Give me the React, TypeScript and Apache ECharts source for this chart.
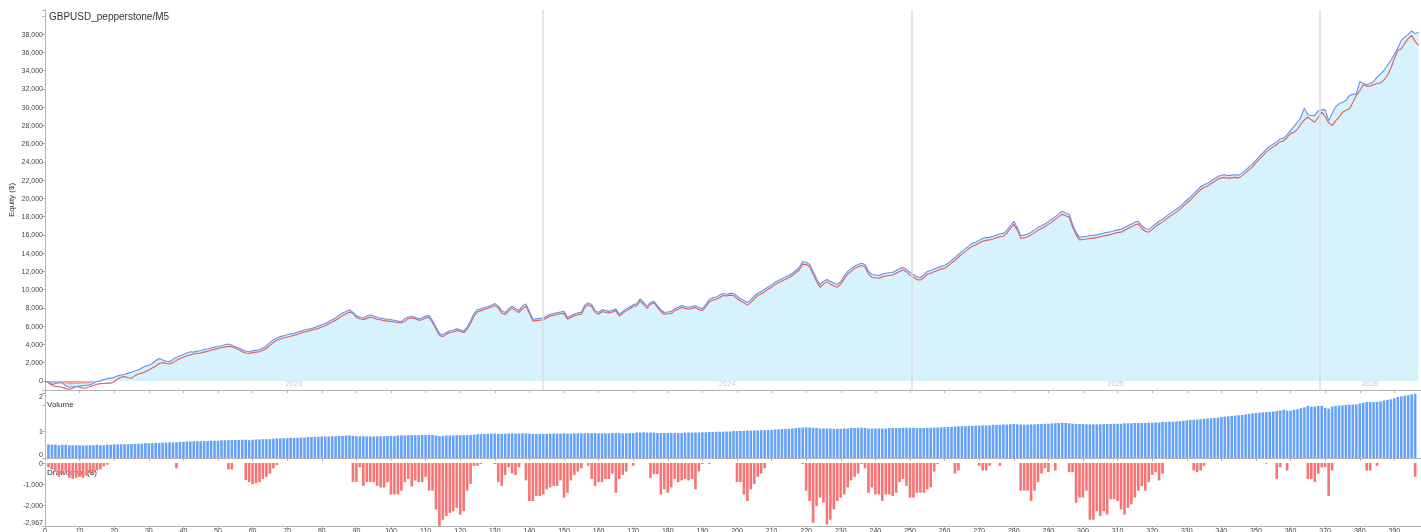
import React, { useEffect, useRef } from "react";
import * as echarts from "echarts";

const TITLE = "GBPUSD_pepperstone/M5";

// Equity (blue, upper line) per trade index 0..397
const equityHigh = [
  0,-150,-400,-300,-200,-250,-500,-700,-650,-620,
  -580,-520,-480,-440,-250,-70,0,150,250,300,
  400,550,650,700,850,950,1100,1200,1400,1600,
  1700,1900,2200,2450,2300,2150,2100,2350,2600,2750,
  2900,3050,3200,3150,3250,3300,3450,3500,3600,3700,
  3800,3850,3950,4050,3900,3750,3600,3400,3250,3200,
  3300,3350,3400,3600,3850,4200,4500,4700,4850,4950,
  5050,5150,5200,5350,5450,5600,5650,5750,5850,6000,
  6150,6300,6500,6700,6900,7200,7450,7600,7800,7500,
  7150,7000,6900,7100,7250,7100,6950,6900,6800,6750,
  6700,6650,6550,6500,6800,7000,7070,6950,6800,6900,
  7100,7150,6600,5900,5200,5050,5300,5500,5550,5700,
  5600,5450,5900,6600,7400,7800,7900,8050,8150,8300,
  8470,8200,7700,7500,7900,8180,7900,7730,8200,8440,
  7600,6750,6800,6850,6900,7100,7300,7370,7450,7550,
  7620,6950,7150,7340,7450,7510,8300,8550,8360,7700,
  7510,7810,7700,7620,7750,7890,7300,7600,7890,8100,
  8360,8450,8990,8600,8180,8600,8730,8250,7800,7510,
  7550,7620,7900,8060,8250,8150,8060,8150,8250,8030,
  7900,8400,8910,9100,9200,9400,9570,9500,9600,9570,
  9300,9000,8800,8580,8900,9300,9600,9800,10010,10300,
  10500,10800,11000,11200,11400,11550,11800,12100,12430,13090,
  13000,12760,12000,11200,10560,10900,11110,10900,10700,10560,
  10900,11500,11990,12300,12600,12760,12900,12760,12000,11660,
  11600,11550,11700,11800,11850,11880,12100,12300,12430,12200,
  11900,11660,11400,11330,11600,11990,12100,12250,12400,12550,
  12650,12900,13200,13500,13860,14200,14500,14800,15070,15200,
  15400,15600,15700,15730,15850,16000,16100,16170,16500,17000,
  17490,16830,15950,15950,16100,16300,16550,16830,17000,17200,
  17450,17710,18000,18300,18590,18400,18260,17160,16300,15730,
  15800,15850,15900,15950,16000,16100,16200,16280,16350,16450,
  16550,16610,16800,17000,17200,17400,17490,17000,16700,16610,
  16900,17200,17500,17710,18000,18300,18550,18810,19100,19450,
  19800,20130,20500,20900,21250,21500,21670,21900,22150,22400,
  22550,22600,22500,22550,22600,22550,22800,23100,23450,23760,
  24200,24600,25000,25410,25700,25950,26200,26510,26600,27000,
  27420,27900,28350,28900,29890,29150,29100,29070,29620,29700,
  29730,28520,29300,30000,30360,30550,30720,31270,31400,31460,
  32810,32600,32450,32600,32810,33300,33660,34020,34600,35120,
  35800,36490,37320,37700,37950,38360,38060,38250,
];

// Equity (red, lower line) per trade index 0..397
const equityLow = [
  0,-200,-500,-600,-650,-700,-850,-920,-800,-620,
  -700,-800,-750,-650,-500,-370,-300,-280,-250,-250,
  -100,200,400,470,350,300,550,750,850,1000,
  1200,1400,1600,1900,2000,1900,1850,2000,2250,2450,
  2600,2750,2850,2950,3000,3050,3150,3250,3350,3450,
  3550,3650,3700,3800,3750,3600,3400,3200,3050,3000,
  3100,3150,3200,3350,3550,3900,4200,4450,4600,4700,
  4800,4900,5000,5100,5250,5350,5450,5550,5650,5750,
  5900,6050,6250,6450,6650,6900,7150,7350,7550,7400,
  6950,6800,6700,6850,7000,6900,6750,6700,6600,6550,
  6500,6450,6400,6350,6550,6800,6900,6800,6650,6700,
  6900,6950,6400,5700,5000,4850,5100,5300,5350,5500,
  5450,5300,5650,6300,7100,7550,7700,7850,7950,8100,
  8250,8000,7450,7250,7650,7950,7700,7500,7900,8200,
  7400,6550,6600,6650,6700,6900,7100,7200,7250,7350,
  7400,6750,6950,7150,7250,7300,8050,8350,8150,7500,
  7300,7600,7500,7450,7550,7700,7100,7400,7700,7900,
  8150,8250,8750,8400,7950,8400,8550,8050,7600,7300,
  7350,7400,7700,7850,8050,7950,7850,7950,8050,7800,
  7700,8150,8650,8850,8950,9150,9350,9300,9400,9350,
  9050,8750,8550,8300,8600,9000,9350,9550,9750,10050,
  10250,10550,10750,10950,11150,11300,11550,11850,12150,12800,
  12750,12500,11700,10900,10250,10600,10850,10600,10400,10250,
  10600,11200,11700,12000,12350,12500,12650,12500,11700,11350,
  11300,11250,11400,11500,11550,11600,11800,12000,12150,11950,
  11600,11350,11100,11050,11300,11700,11800,11950,12100,12250,
  12350,12600,12900,13200,13550,13900,14200,14500,14750,14900,
  15100,15300,15400,15450,15550,15700,15800,15850,16200,16700,
  17150,16550,15650,15650,15800,16000,16250,16500,16700,16900,
  17150,17400,17700,18000,18250,18100,17950,16850,16000,15450,
  15500,15550,15600,15650,15700,15800,15900,15950,16050,16150,
  16250,16300,16500,16700,16900,17100,17200,16700,16400,16300,
  16600,16900,17200,17400,17700,18000,18250,18500,18800,19150,
  19500,19800,20200,20600,20950,21200,21350,21600,21850,22100,
  22250,22300,22200,22250,22300,22250,22500,22800,23150,23450,
  23900,24300,24700,25100,25400,25650,25900,26200,26300,26700,
  27100,27250,27600,28160,28600,28900,28600,28350,28900,29450,
  29000,28300,27970,28500,28900,29450,29650,29810,30500,31270,
  31800,32450,32300,32300,32450,32600,32670,33000,33470,34300,
  35300,36220,36410,37000,37510,37870,37210,36770,
];

// Early stretch where equity sits below zero (shaded red)
const equityBelowZero = [0,-100,-250,-200,-150,-200,-300,-400,-380,-350,-330,-300,-280,-250,-150,-50,0];

// Volume per trade 1..396
const volume = [
  0.51,0.50,0.50,0.48,0.50,0.50,0.48,0.48,0.48,0.48,
  0.47,0.48,0.48,0.48,0.50,0.48,0.48,0.50,0.50,0.51,
  0.51,0.52,0.52,0.52,0.53,0.53,0.54,0.54,0.56,0.56,
  0.56,0.57,0.57,0.58,0.58,0.59,0.59,0.59,0.61,0.61,
  0.62,0.62,0.63,0.63,0.63,0.64,0.64,0.65,0.65,0.65,
  0.67,0.67,0.67,0.68,0.68,0.68,0.69,0.69,0.67,0.69,
  0.70,0.70,0.71,0.71,0.71,0.73,0.74,0.74,0.75,0.75,
  0.76,0.76,0.76,0.77,0.77,0.79,0.79,0.80,0.80,0.81,
  0.81,0.81,0.82,0.82,0.83,0.83,0.85,0.85,0.83,0.82,
  0.82,0.82,0.81,0.81,0.81,0.82,0.82,0.82,0.83,0.83,
  0.83,0.85,0.85,0.85,0.86,0.86,0.86,0.86,0.87,0.87,
  0.87,0.87,0.85,0.83,0.83,0.85,0.85,0.85,0.86,0.86,
  0.86,0.86,0.87,0.88,0.90,0.90,0.91,0.91,0.92,0.92,
  0.91,0.91,0.91,0.92,0.92,0.92,0.92,0.93,0.93,0.92,
  0.91,0.91,0.91,0.91,0.91,0.92,0.92,0.92,0.92,0.93,
  0.92,0.92,0.93,0.93,0.93,0.93,0.94,0.94,0.94,0.93,
  0.93,0.93,0.93,0.94,0.94,0.94,0.93,0.93,0.94,0.94,
  0.96,0.96,0.97,0.96,0.96,0.96,0.94,0.94,0.94,0.94,
  0.94,0.94,0.94,0.94,0.96,0.96,0.96,0.96,0.96,0.97,
  0.97,0.98,0.98,0.99,0.99,0.99,1.00,1.00,1.02,1.02,
  1.02,1.02,1.03,1.03,1.04,1.04,1.05,1.05,1.06,1.06,
  1.08,1.08,1.09,1.10,1.10,1.11,1.13,1.14,1.15,1.16,
  1.15,1.14,1.13,1.11,1.11,1.11,1.11,1.10,1.10,1.10,
  1.11,1.11,1.13,1.13,1.14,1.14,1.13,1.11,1.11,1.11,
  1.11,1.11,1.11,1.13,1.13,1.13,1.13,1.14,1.14,1.14,
  1.14,1.13,1.13,1.13,1.14,1.14,1.15,1.15,1.16,1.16,
  1.17,1.17,1.19,1.19,1.20,1.20,1.21,1.21,1.22,1.22,
  1.23,1.23,1.23,1.25,1.25,1.25,1.26,1.26,1.27,1.28,
  1.27,1.26,1.26,1.26,1.27,1.27,1.28,1.28,1.29,1.29,
  1.31,1.31,1.32,1.33,1.32,1.31,1.29,1.28,1.28,1.28,
  1.27,1.27,1.27,1.27,1.27,1.28,1.28,1.28,1.29,1.29,
  1.29,1.31,1.31,1.31,1.32,1.32,1.32,1.32,1.33,1.33,
  1.34,1.34,1.36,1.36,1.37,1.37,1.38,1.39,1.40,1.42,
  1.43,1.44,1.45,1.46,1.48,1.49,1.50,1.51,1.52,1.54,
  1.56,1.57,1.59,1.60,1.61,1.62,1.65,1.66,1.68,1.69,
  1.71,1.72,1.73,1.74,1.75,1.77,1.79,1.82,1.79,1.78,
  1.82,1.84,1.88,1.91,1.96,1.94,1.94,1.96,1.96,1.89,
  1.86,1.94,1.96,1.98,1.98,2.00,2.01,2.01,2.02,2.06,
  2.08,2.11,2.11,2.11,2.11,2.13,2.17,2.19,2.21,2.25,
  2.30,2.32,2.35,2.37,2.40,2.42,
];

// Drawdown ($) per trade 1..396
const drawdown = [
  -200,-300,-400,-650,-500,-400,-700,-750,-700,-650,
  -700,-600,-500,-450,-350,-300,-150,-80,0,0,
  0,0,0,0,0,0,0,0,0,0,
  0,0,0,0,0,0,0,-250,0,0,
  0,0,0,0,0,0,0,0,0,0,
  0,0,-300,-300,0,0,0,-800,-900,-1000,
  -950,-900,-750,-650,-500,-250,-100,0,0,0,
  0,0,0,0,0,0,0,0,0,0,
  0,0,0,0,0,0,0,0,-890,-890,
  -200,-1080,-900,-900,-900,-1080,-1150,-1150,-900,-1480,
  -1480,-1480,-1300,-900,-750,-1100,-820,-900,-900,-650,
  -1300,-1300,-2190,-2967,-2670,-2500,-2350,-2270,-2110,-2430,
  -2270,-1300,-980,-130,-130,-50,0,0,0,-50,
  -900,-1080,-560,-200,-500,-560,-200,0,-820,-1790,
  -1790,-1550,-1550,-1480,-1240,-1150,-1080,-1080,-820,-1630,
  -1400,-820,-560,-400,-250,0,-130,-750,-1080,-900,
  -900,-750,-750,-500,-1400,-750,-560,-400,0,-130,
  0,0,0,0,-700,-520,-520,-1480,-1240,-1400,
  -1150,-750,-900,-820,-750,-820,-750,-1240,-400,-50,
  0,-50,0,0,0,0,0,0,0,-900,
  -900,-1480,-1790,-1240,-980,-650,-500,-250,0,0,
  0,0,0,0,0,0,0,0,-50,-1300,
  -1790,-2820,-2030,-1630,-1870,-2900,-2670,-2190,-1790,-1630,
  -1480,-1150,-820,-650,-500,-50,-250,-1400,-1150,-1480,
  -1480,-1790,-1480,-1480,-1550,-1400,-900,-750,-1080,-1630,
  -1630,-1400,-1400,-1400,-1240,-1150,-400,-50,0,0,
  0,0,-500,-350,0,0,0,0,0,-130,
  -350,-350,-130,0,0,-130,0,0,0,0,
  0,-1300,-1300,-1300,-1790,-1300,-900,-500,-250,-430,
  0,-350,0,0,0,-430,-430,-1870,-1630,-1630,
  -1300,-2670,-2670,-2270,-2500,-2270,-2430,-1710,-1710,-1790,
  -2190,-2430,-2110,-1950,-1630,-1300,-1080,-1300,-900,-560,
  -430,-820,-500,0,0,0,0,0,0,0,
  0,-350,-430,-350,-130,0,0,0,0,0,
  0,0,0,0,0,0,0,0,0,0,
  0,0,-30,0,0,-750,-200,0,-350,0,
  0,0,0,0,-750,-750,-900,-500,-200,-200,
  -1550,-350,0,0,0,0,0,0,0,0,
  0,-350,-350,0,-130,0,0,0,0,0,
  0,0,0,0,0,-650,
];

const EQUITY_MIN = -1000;
const EQUITY_MAX = 40650;
const EQUITY_LABEL_TOP = 38000;
const VOLUME_MAX = 2.45;
const DRAWDOWN_MIN = -2967;
const years = ["2023", "2024", "2025", "2026"];
const yearStarts = [0, 143.8, 250.6, 368.3];
const X_MAX = 397.7;

const FONT = "Liberation Sans, Arial, sans-serif";
const fmt = (v: number) => v.toLocaleString("en-US");

function buildOption() {
  const axisLineStyle = { color: "#b5b5b5", width: 1 };
  const xAxisBase = {
    type: "value" as const,
    min: 0,
    max: X_MAX,
    interval: 10,
    splitLine: { show: false },
    axisLine: { onZero: false, lineStyle: axisLineStyle },
    axisTick: { length: 3, lineStyle: axisLineStyle },
  };
  const gridBase = { left: 45, right: 0, containLabel: false, outerBoundsMode: "none" };
  return {
    animation: false,
    textStyle: { fontFamily: FONT },
    title: [
      { text: TITLE, left: 49, top: 11, padding: 0, z: 1, textStyle: { fontSize: 10, fontWeight: "normal", color: "#333", fontFamily: FONT } },
      { text: "Volume", left: 47, top: 400, padding: 0, z: 1, textStyle: { fontSize: 8, fontWeight: "normal", color: "#333", fontFamily: FONT } },
      { text: "Drawdown ($)", left: 47, top: 468, padding: 0, z: 1, textStyle: { fontSize: 8, fontWeight: "normal", color: "#333", fontFamily: FONT } },
    ],
    grid: [
      { ...gridBase, top: 10, height: 380 },
      { ...gridBase, top: 393, height: 65 },
      { ...gridBase, top: 463, height: 63 },
    ],
    xAxis: [
      { ...xAxisBase, gridIndex: 0, axisLabel: { show: false } },
      { ...xAxisBase, gridIndex: 1, axisLabel: { show: false } },
      {
        ...xAxisBase, gridIndex: 2,
        axisLabel: { show: true, fontSize: 7, color: "#444", margin: 1, formatter: (v: number) => (v % 10 === 0 ? String(v) : "") },
      },
    ],
    yAxis: [
      {
        type: "value", gridIndex: 0, min: EQUITY_MIN, max: EQUITY_MAX, splitNumber: 20,
        name: "Equity ($)", nameLocation: "middle", nameGap: 30, nameMoveOverlap: false,
        nameTextStyle: { fontSize: 8, color: "#333" },
        splitLine: { show: false },
        axisLine: { show: true, lineStyle: axisLineStyle },
        axisTick: { show: true, length: 3, lineStyle: axisLineStyle },
        axisLabel: {
          fontSize: 7, color: "#444", margin: 2,
          formatter: (v: number) => (v >= 0 && v <= EQUITY_LABEL_TOP && v % 2000 === 0 ? fmt(v) : ""),
        },
      },
      {
        type: "value", gridIndex: 1, min: 0, max: VOLUME_MAX, interval: 1,
        splitLine: { show: false },
        axisLine: { show: true, lineStyle: axisLineStyle },
        axisTick: { show: true, length: 3, lineStyle: axisLineStyle },
        axisLabel: {
          fontSize: 7, color: "#444", margin: 2,
          verticalAlignMinLabel: "bottom", verticalAlignMaxLabel: "top",
          formatter: (v: number) => (v === VOLUME_MAX ? String(Math.round(v)) : v < 2 ? String(v) : ""),
        },
      },
      {
        type: "value", gridIndex: 2, min: DRAWDOWN_MIN, max: 0, splitNumber: 3,
        splitLine: { show: false },
        axisLine: { show: true, lineStyle: axisLineStyle },
        axisTick: { show: true, length: 3, lineStyle: axisLineStyle },
        axisLabel: {
          fontSize: 7, color: "#444", margin: 2,
          verticalAlignMinLabel: "bottom",
          formatter: (v: number) => fmt(v),
        },
      },
    ],
    series: [
      {
        name: "area",
        type: "line",
        xAxisIndex: 0, yAxisIndex: 0,
        data: equityHigh.map((v, i) => [i, v]),
        showSymbol: false,
        lineStyle: { width: 0, opacity: 0 },
        areaStyle: { color: "#d6f3fd", opacity: 1 },
        silent: true,
        z: 1,
        markLine: {
          silent: true,
          symbol: ["none", "none"],
          label: { show: false },
          lineStyle: { color: "#dedede", type: "solid", width: 1.5 },
          data: yearStarts.slice(1).map((x) => [{ coord: [x, EQUITY_MIN] }, { coord: [x, EQUITY_MAX] }]),
        },
        markArea: {
          silent: true,
          itemStyle: { color: "rgba(0,0,0,0)" },
          label: { show: true, position: "insideBottom", distance: 3, color: "#c9c9c9", fontSize: 7.5 },
          data: years.map((y, k) => [
            { coord: [yearStarts[k], EQUITY_MIN], name: y },
            { coord: [k + 1 < yearStarts.length ? yearStarts[k + 1] : X_MAX, EQUITY_MAX] },
          ]),
        },
      },
      {
        name: "belowZero",
        type: "line",
        xAxisIndex: 0, yAxisIndex: 0,
        data: equityBelowZero.map((v, i) => [i, v]),
        showSymbol: false,
        lineStyle: { width: 0, opacity: 0 },
        areaStyle: { color: "#f2a3a3", opacity: 1 },
        silent: true,
        z: 2,
      },
      {
        name: "equityLow",
        type: "line",
        xAxisIndex: 0, yAxisIndex: 0,
        data: equityLow.map((v, i) => [i, v]),
        showSymbol: false,
        lineStyle: { color: "#e25c5c", width: 1.1 },
        z: 3,
      },
      {
        name: "equityHigh",
        type: "line",
        xAxisIndex: 0, yAxisIndex: 0,
        data: equityHigh.map((v, i) => [i, v]),
        showSymbol: false,
        lineStyle: { color: "#6990e8", width: 1.1 },
        z: 4,
      },
      {
        name: "volume",
        type: "bar",
        xAxisIndex: 1, yAxisIndex: 1,
        data: volume.map((v, i) => [i + 1, v]),
        barWidth: 2.6,
        itemStyle: { color: "#66a1f8" },
        z: 2,
      },
      {
        name: "drawdown",
        type: "bar",
        xAxisIndex: 2, yAxisIndex: 2,
        data: drawdown.map((v, i) => [i + 1, v]),
        barWidth: 2.6,
        itemStyle: { color: "#f87373" },
        z: 2,
      },
    ],
  };
}

export default function App() {
  const ref = useRef<HTMLDivElement>(null);
  useEffect(() => {
    document.body.style.margin = "0";
    const chart = echarts.init(ref.current!, null, { renderer: "svg" });
    chart.setOption(buildOption() as any);
    return () => chart.dispose();
  }, []);
  return <div ref={ref} style={{ position: "fixed", left: 0, top: 0, width: 1421, height: 532 }} />;
}
